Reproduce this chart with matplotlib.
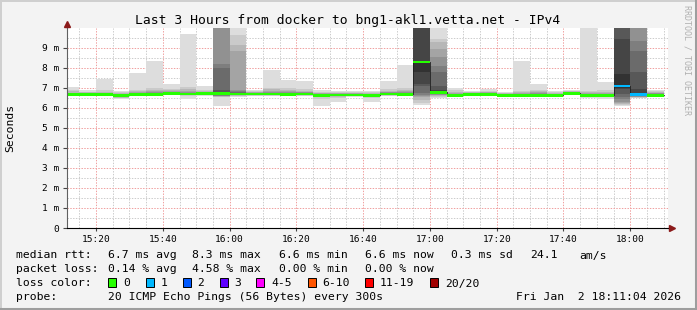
import numpy as np
import pandas as pd
import matplotlib
matplotlib.use("Agg")
import matplotlib.pyplot as plt
import matplotlib.dates as mdates
from matplotlib.ticker import MultipleLocator, FuncFormatter
from matplotlib.patches import Rectangle
from matplotlib.lines import Line2D

plt.rcParams["font.family"] = ["DejaVu Sans Mono"]

# one step per 5 minutes, stamped with the end of the interval
step_end = pd.date_range("2026-01-02 15:15", "2026-01-02 18:10", freq="5min")
view_start = pd.Timestamp("2026-01-02 15:11:18")
view_end = pd.Timestamp("2026-01-02 18:11:18")

# median rtt per step (ms)
median_ms = [6.66, 6.68, 6.68, 6.63, 6.67, 6.68, 6.72, 6.70, 6.72, 6.73,
             6.70, 6.70, 6.70, 6.68, 6.70, 6.62, 6.65, 6.65, 6.62, 6.70,
             6.68, 8.30, 6.78, 6.62, 6.68, 6.68, 6.63, 6.63, 6.63, 6.62,
             6.72, 6.63, 6.62, 7.10, 6.68, 6.63]

# lost pings per step (out of 20)
loss = [0] * 33 + [1, 1, 0]

# the 20 sorted ping times of each step (ms), values above 10 are off the chart
pings_ms = [
    [6.57, 6.60, 6.61, 6.62, 6.63, 6.64, 6.64, 6.65, 6.65, 6.66, 6.66, 6.67, 6.68, 6.69, 6.70, 6.72, 6.75, 6.82, 6.90, 7.03],
    [6.60, 6.62, 6.63, 6.64, 6.65, 6.66, 6.66, 6.67, 6.67, 6.68, 6.68, 6.69, 6.69, 6.70, 6.71, 6.72, 6.74, 6.77, 6.80, 6.88],
    [6.60, 6.62, 6.63, 6.64, 6.65, 6.66, 6.66, 6.67, 6.67, 6.68, 6.68, 6.69, 6.70, 6.71, 6.72, 6.74, 6.76, 6.80, 6.88, 7.42],
    [6.45, 6.47, 6.50, 6.55, 6.58, 6.60, 6.61, 6.62, 6.62, 6.63, 6.63, 6.64, 6.65, 6.66, 6.67, 6.68, 6.70, 6.73, 6.78, 6.85],
    [6.60, 6.62, 6.63, 6.64, 6.65, 6.65, 6.66, 6.66, 6.67, 6.67, 6.68, 6.68, 6.69, 6.70, 6.72, 6.74, 6.77, 6.82, 6.90, 7.72],
    [6.60, 6.62, 6.63, 6.64, 6.65, 6.66, 6.66, 6.67, 6.67, 6.68, 6.68, 6.69, 6.70, 6.72, 6.75, 6.78, 6.82, 6.90, 6.98, 8.32],
    [6.62, 6.64, 6.65, 6.66, 6.67, 6.68, 6.69, 6.70, 6.71, 6.72, 6.72, 6.73, 6.74, 6.76, 6.78, 6.80, 6.84, 6.90, 6.95, 7.18],
    [6.43, 6.58, 6.62, 6.64, 6.65, 6.66, 6.67, 6.68, 6.69, 6.70, 6.70, 6.71, 6.72, 6.74, 6.76, 6.80, 6.85, 6.95, 7.05, 9.70],
    [6.60, 6.63, 6.65, 6.66, 6.67, 6.68, 6.69, 6.70, 6.71, 6.72, 6.72, 6.73, 6.74, 6.75, 6.76, 6.78, 6.80, 6.84, 6.90, 7.10],
    [6.07, 6.53, 6.56, 6.57, 6.58, 6.60, 6.62, 6.65, 6.70, 6.72, 6.76, 6.80, 6.87, 7.98, 8.20, 10.5, 10.8, 11.0, 11.5, 12.0],
    [6.52, 6.58, 6.60, 6.62, 6.63, 6.64, 6.65, 6.67, 6.68, 6.70, 6.70, 6.72, 6.74, 6.77, 6.82, 6.90, 8.82, 9.15, 9.65, 10.5],
    [6.57, 6.60, 6.62, 6.63, 6.64, 6.65, 6.66, 6.67, 6.68, 6.69, 6.70, 6.71, 6.72, 6.73, 6.74, 6.76, 6.78, 6.80, 6.84, 6.88],
    [6.58, 6.61, 6.63, 6.64, 6.65, 6.66, 6.67, 6.68, 6.69, 6.70, 6.70, 6.71, 6.72, 6.74, 6.76, 6.80, 6.85, 6.92, 6.98, 7.88],
    [6.58, 6.60, 6.62, 6.63, 6.64, 6.65, 6.66, 6.67, 6.67, 6.68, 6.68, 6.69, 6.70, 6.72, 6.74, 6.77, 6.82, 6.90, 6.98, 7.38],
    [6.58, 6.61, 6.63, 6.64, 6.65, 6.66, 6.67, 6.68, 6.69, 6.70, 6.70, 6.71, 6.72, 6.73, 6.75, 6.77, 6.80, 6.85, 6.92, 7.35],
    [6.10, 6.45, 6.52, 6.55, 6.57, 6.58, 6.59, 6.60, 6.61, 6.62, 6.62, 6.63, 6.64, 6.65, 6.67, 6.69, 6.72, 6.76, 6.80, 6.88],
    [6.27, 6.50, 6.55, 6.58, 6.60, 6.61, 6.62, 6.63, 6.64, 6.65, 6.65, 6.66, 6.67, 6.68, 6.69, 6.70, 6.72, 6.75, 6.78, 6.83],
    [6.55, 6.58, 6.60, 6.61, 6.62, 6.63, 6.63, 6.64, 6.64, 6.65, 6.65, 6.66, 6.67, 6.68, 6.69, 6.70, 6.72, 6.75, 6.78, 6.82],
    [6.30, 6.50, 6.54, 6.56, 6.58, 6.59, 6.60, 6.60, 6.61, 6.62, 6.62, 6.63, 6.64, 6.65, 6.66, 6.68, 6.70, 6.73, 6.77, 6.82],
    [6.58, 6.61, 6.63, 6.64, 6.65, 6.66, 6.67, 6.68, 6.69, 6.70, 6.70, 6.71, 6.72, 6.73, 6.75, 6.77, 6.80, 6.86, 6.95, 7.35],
    [6.58, 6.61, 6.62, 6.63, 6.64, 6.65, 6.66, 6.67, 6.67, 6.68, 6.68, 6.69, 6.70, 6.72, 6.74, 6.77, 6.82, 6.90, 7.00, 8.15],
    [6.12, 6.25, 6.40, 6.55, 6.60, 6.65, 6.73, 7.07, 7.20, 7.80, 8.35, 10.5, 10.6, 10.7, 10.8, 11.0, 11.2, 11.5, 12.0, 12.5],
    [6.50, 6.55, 6.60, 6.63, 6.65, 6.68, 6.70, 6.72, 6.74, 6.76, 6.82, 6.88, 7.10, 7.77, 8.10, 8.52, 8.93, 9.27, 9.43, 10.5],
    [6.55, 6.57, 6.58, 6.59, 6.60, 6.60, 6.61, 6.61, 6.62, 6.62, 6.62, 6.63, 6.64, 6.65, 6.67, 6.70, 6.74, 6.80, 6.88, 6.97],
    [6.60, 6.62, 6.63, 6.64, 6.65, 6.66, 6.66, 6.67, 6.67, 6.68, 6.68, 6.69, 6.70, 6.71, 6.72, 6.73, 6.75, 6.77, 6.80, 6.83],
    [6.60, 6.62, 6.63, 6.64, 6.65, 6.66, 6.66, 6.67, 6.67, 6.68, 6.68, 6.69, 6.70, 6.71, 6.72, 6.74, 6.77, 6.80, 6.86, 6.93],
    [6.56, 6.58, 6.59, 6.60, 6.61, 6.61, 6.62, 6.62, 6.63, 6.63, 6.63, 6.64, 6.65, 6.66, 6.67, 6.68, 6.70, 6.72, 6.75, 6.80],
    [6.56, 6.58, 6.59, 6.60, 6.61, 6.61, 6.62, 6.62, 6.63, 6.63, 6.63, 6.64, 6.65, 6.66, 6.68, 6.70, 6.73, 6.78, 6.85, 8.35],
    [6.55, 6.57, 6.58, 6.60, 6.61, 6.61, 6.62, 6.62, 6.63, 6.63, 6.63, 6.64, 6.66, 6.68, 6.70, 6.74, 6.78, 6.84, 6.90, 7.18],
    [6.55, 6.57, 6.58, 6.59, 6.60, 6.60, 6.61, 6.61, 6.62, 6.62, 6.62, 6.63, 6.64, 6.65, 6.66, 6.68, 6.70, 6.73, 6.78, 6.83],
    [6.62, 6.64, 6.65, 6.66, 6.67, 6.68, 6.69, 6.70, 6.71, 6.72, 6.72, 6.73, 6.74, 6.75, 6.76, 6.78, 6.80, 6.83, 6.86, 6.90],
    [6.50, 6.56, 6.58, 6.59, 6.60, 6.61, 6.61, 6.62, 6.62, 6.63, 6.63, 6.64, 6.65, 6.66, 6.68, 6.70, 6.73, 6.78, 6.85, 10.5],
    [6.43, 6.55, 6.57, 6.58, 6.59, 6.60, 6.61, 6.61, 6.62, 6.62, 6.62, 6.63, 6.64, 6.65, 6.67, 6.70, 6.74, 6.80, 6.90, 7.30],
    [6.10, 6.15, 6.20, 6.25, 6.30, 6.45, 6.52, 6.68, 6.93, 7.00, 7.68, 9.43, 10.5, 10.6, 10.8, 11.0, 11.2, 11.5, 12.0, 12.5],
    [6.47, 6.50, 6.52, 6.54, 6.56, 6.58, 6.60, 6.62, 6.64, 6.66, 6.75, 6.93, 7.77, 8.85, 9.35, 10.5, 10.8, 11.0, 11.5, 12.0],
    [6.56, 6.58, 6.59, 6.60, 6.61, 6.61, 6.62, 6.62, 6.63, 6.63, 6.63, 6.64, 6.65, 6.67, 6.69, 6.72, 6.75, 6.79, 6.83, 6.88],
]

loss_labels = ["0", "1", "2", "3", "4-5", "6-10", "11-19", "20/20"]
loss_colors = ["#26ff00", "#00b8ff", "#0059ff", "#5e00ff", "#ff00fe", "#ff5500", "#ff0000", "#a00000"]
loss_upper = [0, 1, 2, 3, 5, 10, 19, 20]

title = "Last 3 Hours from docker to bng1-akl1.vetta.net - IPv4"
stats_rows = [
    ["median rtt:", "6.7 ms avg", "8.3 ms max", "6.6 ms min", "6.6 ms now", "0.3 ms sd", "24.1", "am/s"],
    ["packet loss:", "0.14 % avg", "4.58 % max", "0.00 % min", "0.00 % now"],
]
probe_text = "20 ICMP Echo Pings (56 Bytes) every 300s"
stamp_text = "Fri Jan  2 18:11:04 2026"

W, H = 697, 310
fig = plt.figure(figsize=(W / 100, H / 100), dpi=100, facecolor="#f3f3f3")
ax = fig.add_axes([67 / W, 1 - 228 / H, 601 / W, 200 / H])
ax.set_facecolor("white")


def fx(x):
    return x / W


def fy(y):
    return 1 - y / H


x0 = mdates.date2num(step_end - pd.Timedelta(minutes=5))
w = 5 / 1440.0
pings = np.sort(np.array(pings_ms), axis=1)
n = pings.shape[1]
half = n // 2

# smoke: outer pairs light, inner pairs dark
for k in range(1, half + 1):
    lo = pings[:, k - 1]
    hi = pings[:, n - k]
    g = (int(190 / half * (half - k)) + 50) / 255
    ax.bar(x0, hi - lo, bottom=lo, width=w, align="edge", color=(g, g, g),
           linewidth=0, antialiased=False, zorder=1)

med = np.array(median_ms)
edges = np.append(x0, x0[-1] + w)
ax.step(edges, np.append(med, med[-1]), where="post", color="#202020", lw=0.6, zorder=2)

lidx = np.array([next(i for i, u in enumerate(loss_upper) if l <= u) for l in loss])
band = 0.065
for i, c in enumerate(loss_colors):
    m = lidx == i
    if m.any():
        ax.bar(x0[m], 2 * band, bottom=med[m] - band, width=w, align="edge", color=c,
               linewidth=0, antialiased=False, zorder=4)

ax.set_xlim(mdates.date2num(view_start), mdates.date2num(view_end))
ax.set_ylim(0, 9.99)

ax.xaxis.set_major_locator(mdates.MinuteLocator(byminute=[0, 20, 40]))
ax.xaxis.set_minor_locator(mdates.MinuteLocator(byminute=range(0, 60, 5)))
ax.xaxis.set_major_formatter(mdates.DateFormatter("%H:%M"))
ax.yaxis.set_major_locator(MultipleLocator(1))
ax.yaxis.set_minor_locator(MultipleLocator(0.5))
ax.yaxis.set_major_formatter(FuncFormatter(lambda v, p: "0" if abs(v) < 1e-9 else "%d m" % round(v)))

# grid sits under the smoke
ax.set_axisbelow(True)
ax.grid(which="minor", color="#cccccc", lw=0.72, linestyle=(0, (1.4, 1.4)))
ax.grid(which="major", color="#f0a0a0", lw=0.72, linestyle=(0, (1.4, 1.4)))

ax.tick_params(axis="y", which="major", length=3, width=0.8, pad=2.6, labelsize=6.8, color="#444444")
ax.tick_params(axis="x", which="major", length=2, width=0.8, pad=3, labelsize=6.8, color="#444444")
ax.tick_params(which="minor", length=0)

for s in ["top", "right"]:
    ax.spines[s].set_visible(False)
ax.spines["left"].set_color("#606060")
ax.spines["left"].set_linewidth(0.8)
ax.spines["bottom"].set_color("black")
ax.spines["bottom"].set_linewidth(0.8)
ax.spines["left"].set_zorder(5)
ax.spines["bottom"].set_zorder(5)

# axis arrows
arrow_c = "#8b1a1a"
ax.plot([0, 0], [1, 1.015], transform=ax.transAxes, color="#606060", lw=0.8, clip_on=False)
ax.plot([0], [1.02], transform=ax.transAxes, marker="^", color=arrow_c, markersize=4,
        clip_on=False, zorder=6)
ax.plot([1, 1.006], [0, 0], transform=ax.transAxes, color="black", lw=0.8, clip_on=False)
ax.plot([1.006], [0], transform=ax.transAxes, marker=">", color=arrow_c, markersize=4,
        clip_on=False, zorder=6)

fig.text(fx(347.5), fy(24), title, ha="center", va="baseline", fontsize=9.35)
fig.text(fx(10), fy(128), "Seconds", rotation=90, ha="center", va="center", fontsize=8.2)
fig.text(fx(686.5), fy(60), "RRDTOOL / TOBI OETIKER", rotation=270, ha="center", va="center",
         fontsize=6, color="#b0b0b0")

# legend block
col_x = [16.4, 107.6, 192.4, 279.1, 365.3, 451.1, 530.2, 579.1]
row_base = [258.5, 272.5, 286.5, 300.5]
fs = 8.2
for r, row in enumerate(stats_rows):
    for c, txt in enumerate(row):
        fig.text(fx(col_x[c]), fy(row_base[r]), txt, ha="left", va="baseline", fontsize=fs)

fig.text(fx(16.4), fy(row_base[2]), "loss color:", ha="left", va="baseline", fontsize=fs)
box_x = [108.4, 145.8, 182.7, 219.6, 256.4, 307.6, 365.3, 430.2]
for bx, lab, c in zip(box_x, loss_labels, loss_colors):
    fig.add_artist(Rectangle((fx(bx), fy(287)), 8 / W, 9 / H, transform=fig.transFigure,
                             facecolor=c, edgecolor="black", linewidth=0.7))
    fig.text(fx(bx + 14.7), fy(row_base[2]), lab, ha="left", va="baseline", fontsize=fs)

fig.text(fx(16.4), fy(row_base[3]), "probe:", ha="left", va="baseline", fontsize=fs)
fig.text(fx(107.6), fy(row_base[3]), probe_text, ha="left", va="baseline", fontsize=fs)
fig.text(fx(681), fy(row_base[3]), stamp_text, ha="right", va="baseline", fontsize=fs)

# 3d frame
fig.add_artist(Line2D([0, 1], [fy(1), fy(1)], transform=fig.transFigure, color="#cfcfcf", lw=1.44))
fig.add_artist(Line2D([fx(1), fx(1)], [0, 1], transform=fig.transFigure, color="#cfcfcf", lw=1.44))
fig.add_artist(Line2D([0, 1], [fy(H - 1.5), fy(H - 1.5)], transform=fig.transFigure, color="#9e9e9e", lw=2.2))
fig.add_artist(Line2D([fx(W - 1.5), fx(W - 1.5)], [0, 1], transform=fig.transFigure, color="#9e9e9e", lw=2.2))

fig.savefig("out.png", dpi=100, facecolor=fig.get_facecolor())
